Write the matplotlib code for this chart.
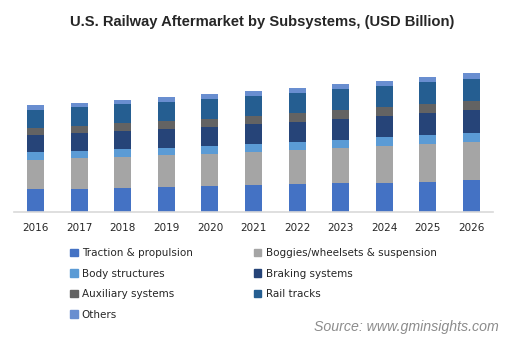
import matplotlib
matplotlib.use("Agg")
import matplotlib.pyplot as plt
import numpy as np
from matplotlib.patches import Patch

# values (relative units, no y-axis shown)
years = ["2016", "2017", "2018", "2019", "2020", "2021", "2022", "2023", "2024", "2025", "2026"]
traction = [2.3, 2.3, 2.4, 2.5, 2.6, 2.7, 2.8, 2.9, 2.9, 3.0, 3.2]
boggies = [2.9, 3.1, 3.1, 3.2, 3.2, 3.3, 3.4, 3.5, 3.7, 3.8, 3.8]
body = [0.8, 0.7, 0.8, 0.7, 0.8, 0.8, 0.8, 0.8, 0.9, 0.9, 0.9]
braking = [1.7, 1.8, 1.8, 1.9, 1.9, 2.0, 2.0, 2.1, 2.1, 2.2, 2.3]
auxiliary = [0.7, 0.7, 0.8, 0.8, 0.8, 0.8, 0.9, 0.9, 0.9, 0.9, 0.9]
rail = [1.8, 1.9, 1.9, 1.9, 2.0, 2.0, 2.0, 2.1, 2.1, 2.2, 2.2]
others = [0.5, 0.4, 0.4, 0.5, 0.5, 0.5, 0.5, 0.5, 0.5, 0.5, 0.6]

series = [
    ("Traction & propulsion", traction, "#4472C4"),
    ("Boggies/wheelsets & suspension", boggies, "#A5A5A5"),
    ("Body structures", body, "#5B9BD5"),
    ("Braking systems", braking, "#264478"),
    ("Auxiliary systems", auxiliary, "#636363"),
    ("Rail tracks", rail, "#255E91"),
    ("Others", others, "#698ED0"),
]

W, H = 508, 351
fig = plt.figure(figsize=(W / 100, H / 100), dpi=100)
ax = fig.add_axes([14 / W, 1 - 212 / H, (493 - 14) / W, 172 / H])

x = np.arange(len(years))
bottom = np.zeros(len(years))
for name, vals, color in series:
    ax.bar(x, vals, width=0.39, bottom=bottom, color=color, label=name)
    bottom += np.array(vals)

ax.set_xlim(-0.5, len(years) - 0.5)
ax.set_ylim(0, 17.2)
ax.set_xticks(x)
ax.set_xticklabels(years, fontsize=7.5, family="DejaVu Sans", color="#262626")
ax.tick_params(axis="x", length=0, pad=8)
ax.set_yticks([])
for s in ["top", "right", "left"]:
    ax.spines[s].set_visible(False)
ax.spines["bottom"].set_color("#d9d9d9")
ax.spines["bottom"].set_linewidth(1.2)

fig.text(262 / W, 1 - 22 / H, "U.S. Railway Aftermarket by Subsystems, (USD Billion)",
         ha="center", va="center", fontsize=10.6, fontweight="bold",
         family="Liberation Sans", color="#262626")

# legend: matplotlib fills columns first, so reorder to get row-wise layout
order = [0, 2, 4, 6, 1, 3, 5]
handles = [Patch(color=series[i][2], label=series[i][0]) for i in order]
fig.legend(handles=handles, ncol=2, loc="upper left",
           bbox_to_anchor=(61 / W, 1 - 239 / H), frameon=False,
           prop={"family": "DejaVu Sans", "size": 7.5},
           handlelength=0.7, handleheight=0.7, handletextpad=0.4,
           labelspacing=1.0, columnspacing=5.9, labelcolor="#262626")

fig.text(499 / W, 1 - 327 / H, "Source: www.gminsights.com", ha="right", va="center",
         fontsize=10.2, style="italic", family="Liberation Sans", color="#8c8c8c")

fig.savefig("out.png", dpi=100)
